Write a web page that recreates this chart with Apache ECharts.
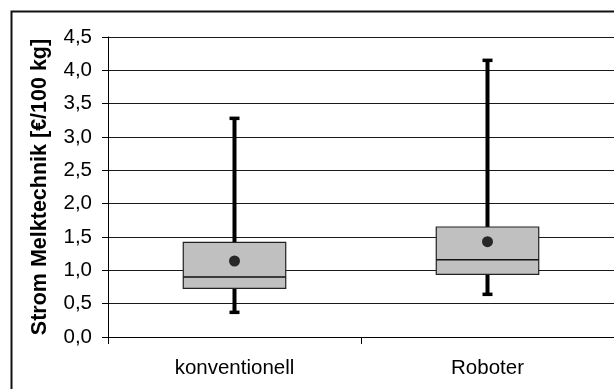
<!DOCTYPE html>
<html>
<head>
<meta charset="utf-8">
<script src="https://cdn.jsdelivr.net/npm/echarts@6/dist/echarts.min.js"></script>
<style>
html,body{margin:0;padding:0;background:#fff;}
#chart{width:614px;height:389px;}
</style>
</head>
<body>
<div id="chart"></div>
<script>
var categories = ['konventionell', 'Roboter'];
var whiskerMin = [0.37, 0.64];
var q1 = [0.73, 0.94];
var median = [0.90, 1.16];
var q3 = [1.42, 1.65];
var whiskerMax = [3.28, 4.15];
var mean = [1.14, 1.43];
var yAxisTitle = 'Strom Melktechnik [€/100 kg]';

var boxData = categories.map(function (c, i) {
  return [i, whiskerMin[i], q1[i], median[i], q3[i], whiskerMax[i]];
});
var meanData = categories.map(function (c, i) { return [i, mean[i]]; });

var chart = echarts.init(document.getElementById('chart'), null, {renderer: 'canvas'});
var font = '"Liberation Sans", Arial, sans-serif';

function renderBox(params, api) {
  var x = api.value(0);
  var pMin = api.coord([x, api.value(1)]);
  var pQ1 = api.coord([x, api.value(2)]);
  var pMed = api.coord([x, api.value(3)]);
  var pQ3 = api.coord([x, api.value(4)]);
  var pMax = api.coord([x, api.value(5)]);
  var band = api.size([1, 0])[0];
  var w = band * 0.405;
  var cap = 10;
  var cx = pMed[0];
  return {
    type: 'group',
    children: [
      {type: 'line', shape: {x1: cx, y1: pMax[1], x2: cx, y2: pMin[1]}, style: {stroke: '#000', lineWidth: 4}},
      {type: 'line', shape: {x1: cx - cap / 2, y1: pMax[1], x2: cx + cap / 2, y2: pMax[1]}, style: {stroke: '#000', lineWidth: 3.5}},
      {type: 'line', shape: {x1: cx - cap / 2, y1: pMin[1], x2: cx + cap / 2, y2: pMin[1]}, style: {stroke: '#000', lineWidth: 3.5}},
      {type: 'rect', shape: {x: cx - w / 2, y: pQ3[1], width: w, height: pQ1[1] - pQ3[1]}, style: {fill: '#c0c0c0', stroke: '#222', lineWidth: 1.2}},
      {type: 'line', shape: {x1: cx - w / 2, y1: pMed[1], x2: cx + w / 2, y2: pMed[1]}, style: {stroke: '#111', lineWidth: 1.5}}
    ]
  };
}

chart.setOption({
  animation: false,
  backgroundColor: '#fff',
  graphic: [{
    type: 'rect', left: 9, top: 9, z: 100, silent: true,
    shape: {x: 0, y: 0, width: 700, height: 500},
    style: {fill: 'none', stroke: '#111', lineWidth: 2}
  }],
  grid: {left: 108, right: 0, top: 37, bottom: 52, containLabel: false},
  xAxis: {
    type: 'category',
    data: categories,
    boundaryGap: true,
    axisLine: {lineStyle: {color: '#000', width: 1}},
    axisTick: {show: true, length: 7, interval: 0, lineStyle: {color: '#000'}},
    axisLabel: {color: '#000', fontFamily: font, fontSize: 20.5, margin: 21, interval: 0},
    splitLine: {show: false}
  },
  yAxis: {
    type: 'value',
    min: 0, max: 4.5, interval: 0.5,
    name: yAxisTitle,
    nameLocation: 'middle',
    nameGap: 57,
    nameRotate: 90,
    nameTextStyle: {color: '#000', fontFamily: font, fontSize: 21.5, fontWeight: 'bold'},
    axisLine: {show: true, lineStyle: {color: '#000', width: 1}},
    axisTick: {show: true, length: 6, lineStyle: {color: '#000'}},
    axisLabel: {color: '#000', fontFamily: font, fontSize: 20.5, margin: 16,
      formatter: function (v) { return v.toFixed(1).replace('.', ','); }},
    splitLine: {show: true, lineStyle: {color: '#1a1a1a', width: 1}}
  },
  series: [
    {type: 'custom', renderItem: renderBox, data: boxData, encode: {x: 0, y: [1, 2, 3, 4, 5]}, z: 3},
    {type: 'scatter', data: meanData, symbol: 'circle', symbolSize: 11, itemStyle: {color: '#000'}, z: 5}
  ]
});
</script>
</body>
</html>
